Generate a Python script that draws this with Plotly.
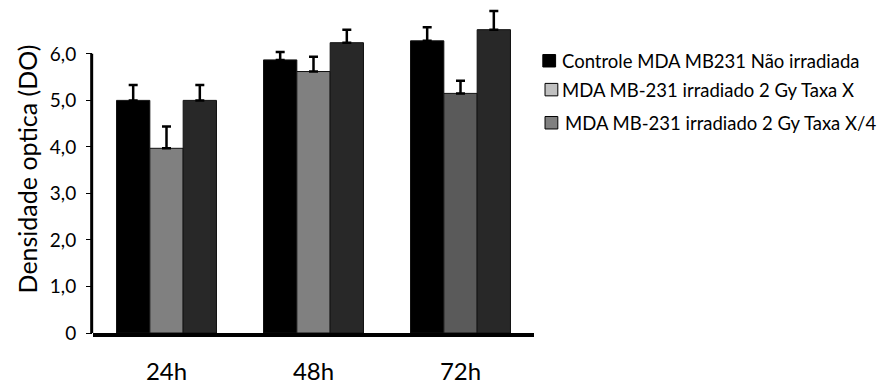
import plotly.graph_objects as go

categories = ["24h", "48h", "72h"]
series_names = [
    "Controle MDA MB231 Não irradiada",
    "MDA MB-231 irradiado 2 Gy Taxa X",
    "MDA MB-231 irradiado 2 Gy Taxa X/4",
]
control_vals = [5.0, 5.87, 6.28]
control_err = [0.33, 0.17, 0.29]
taxa_x_vals = [3.97, 5.62, 5.15]
taxa_x_err = [0.47, 0.32, 0.27]
taxa_x4_vals = [5.0, 6.24, 6.52]
taxa_x4_err = [0.33, 0.28, 0.40]

bar_colors = [
    ["#000000"] * 3,
    ["#808080", "#808080", "#5a5a5a"],
    ["#282828"] * 3,
]
legend_colors = ["#000000", "#c0c0c0", "#808080"]

y_tick_vals = [0, 1, 2, 3, 4, 5, 6]
y_tick_text = ["0", "1,0", "2,0", "3,0", "4,0", "5,0", "6,0"]

FONT = "Lato"

fig = go.Figure()
for vals, errs, cols, name in zip(
    [control_vals, taxa_x_vals, taxa_x4_vals],
    [control_err, taxa_x_err, taxa_x4_err],
    bar_colors,
    series_names,
):
    fig.add_trace(go.Bar(
        x=categories, y=vals, name=name, showlegend=False,
        marker=dict(color=cols, line=dict(color="#111111", width=1)),
        error_y=dict(type="data", array=errs, arrayminus=[0] * len(errs),
                     symmetric=False, color="black", thickness=2.5, width=4.5),
    ))

# y axis line only up to 6,0
fig.add_shape(type="line", xref="paper", yref="y", x0=-0.003, x1=-0.003,
              y0=-0.05, y1=6, line=dict(color="black", width=3))

# custom legend
leg_x = [1.02, 1.025, 1.025]
leg_y = [0.83, 0.742, 0.641]
text_x = [1.06, 1.058, 1.066]
for i, name in enumerate(series_names):
    fig.add_shape(type="rect", xref="paper", yref="paper",
                  x0=leg_x[i], x1=leg_x[i] + 0.029,
                  y0=leg_y[i] - 0.019, y1=leg_y[i] + 0.019,
                  fillcolor=legend_colors[i], line=dict(color="black", width=1))
    fig.add_annotation(text=name, xref="paper", yref="paper",
                       x=text_x[i], y=leg_y[i], xanchor="left", yanchor="middle",
                       showarrow=False, font=dict(family=FONT, size=18.5, color="black"))

fig.update_layout(
    width=884, height=385,
    margin=dict(l=93, r=350, t=5, b=52),
    plot_bgcolor="white", paper_bgcolor="white",
    barmode="group", bargap=0.32, bargroupgap=0,
    showlegend=False,
    font=dict(family=FONT, color="black"),
    xaxis=dict(showline=True, linecolor="black", linewidth=4, ticks="",
               tickfont=dict(size=24), ticklabelstandoff=14, automargin=False,
               showgrid=False, zeroline=False),
    yaxis=dict(range=[0, 7.05], tickvals=y_tick_vals, ticktext=y_tick_text,
               ticks="outside", ticklen=6, tickwidth=1, tickcolor="black",
               tickfont=dict(size=19), ticklabelstandoff=6, automargin=False,
               showline=False, showgrid=False, zeroline=False,
               title=dict(text="Densidade optica (DO)", font=dict(size=25), standoff=5)),
)

fig.write_html("out.html")
